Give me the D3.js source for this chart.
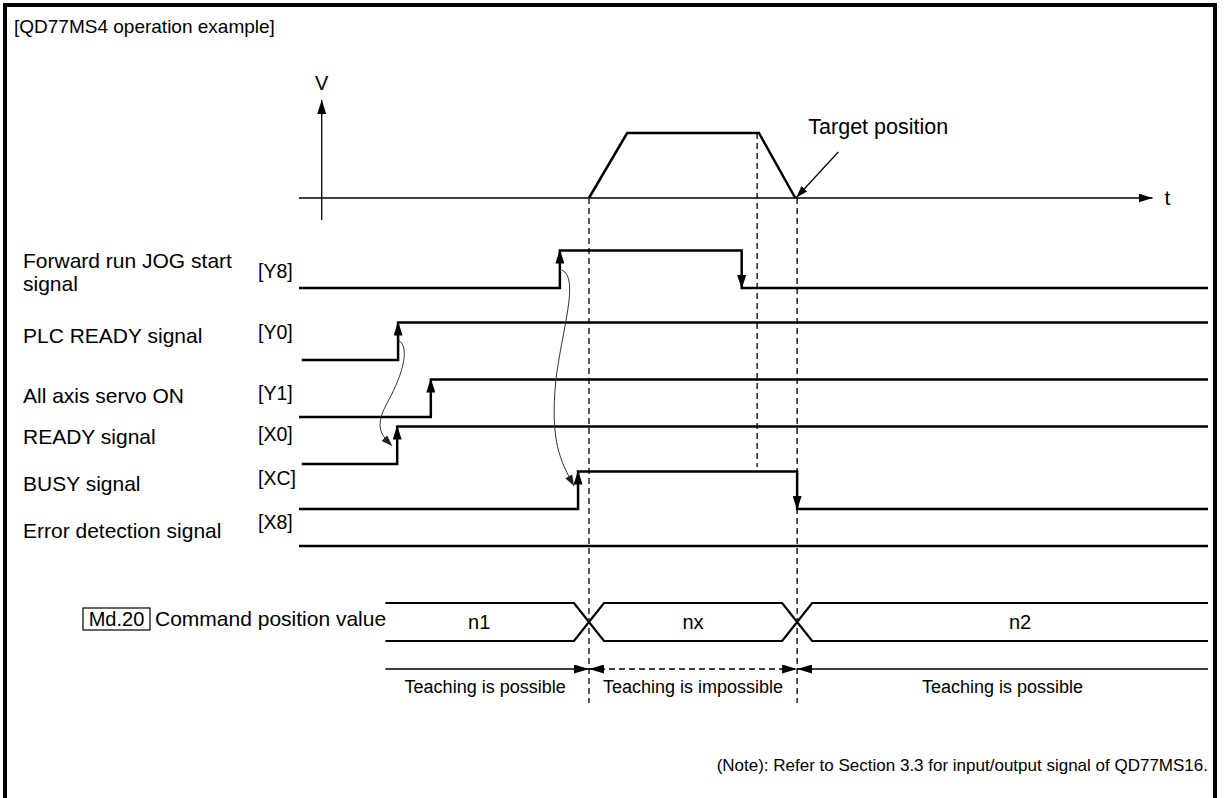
<!DOCTYPE html>
<html>
<head>
<meta charset="utf-8">
<script src="https://cdn.jsdelivr.net/npm/d3@7"></script>
<style>
  html, body { margin: 0; padding: 0; background: #fff; }
  svg { display: block; font-family: "Liberation Sans", Arial, sans-serif; }
</style>
</head>
<body>
<svg id="chart" width="1227" height="798"></svg>
<script>
// ---------------- DATA ----------------
const titleText = "[QD77MS4 operation example]";
const noteText = "(Note): Refer to Section 3.3 for input/output signal of QD77MS16.";

// velocity profile (time units, relative speed)
const velocityTimes = [31.9, 36.1, 50.6, 54.6];
const velocityValues = [0, 1, 1, 0];
const decelStartTime = 50.4;   // dashed marker at start of deceleration
const targetLabel = "Target position";

// signals
const signalLabels = [["Forward run JOG start", "signal"], ["PLC READY signal"], ["All axis servo ON"], ["READY signal"], ["BUSY signal"], ["Error detection signal"]];
const signalCodes = ["[Y8]", "[Y0]", "[Y1]", "[X0]", "[XC]", "[X8]"];
const signalStarts = [0, 0.3, 0, 0.3, 0, 0];
// edge times: [time, direction (1 = rise, 0 = fall)]
const signalEdges = [
  [[28.7, 1], [48.7, 0]],
  [[10.9, 1]],
  [[14.5, 1]],
  [[10.8, 1]],
  [[30.7, 1], [54.8, 0]],
  []
];

// command position value bus
const busLabelBox = "Md.20";
const busLabel = "Command position value";
const busStart = 9.5;
const busChanges = [31.9, 54.8];
const busValues = ["n1", "nx", "n2"];

// teaching availability
const teachTexts = ["Teaching is possible", "Teaching is impossible", "Teaching is possible"];
const teachPossible = [true, false, true];

// ---------------- LAYOUT ----------------
const W = 1227, H = 798;
const svg = d3.select("#chart");
const x = d3.scaleLinear().domain([0, 100]).range([299, 1208]);
const tEnd = 93.9;     // end of t axis
const vAxisT = 2.5;    // position of V axis
const yV = d3.scaleLinear().domain([0, 1]).range([198, 133]);

// signal row geometry (low level y, high level y)
const rowLow = [288, 360, 417, 464, 509, 546];
const amp = 37.5;
const labelBase = [268, 343, 403, 444, 491, 538];
const codeBase = [278, 339, 400, 441, 485, 529];

// markers
const defs = svg.append("defs");
function marker(id, w, h, color) {
  defs.append("marker").attr("id", id)
    .attr("viewBox", `0 0 ${w} ${h}`).attr("refX", w).attr("refY", h / 2)
    .attr("markerWidth", w).attr("markerHeight", h).attr("markerUnits", "userSpaceOnUse")
    .attr("orient", "auto")
    .append("path").attr("d", `M0,0L${w},${h / 2}L0,${h}Z`).attr("fill", color);
}
marker("axisArrow", 14, 9, "#000");
marker("edgeArrow", 14, 9, "#000");
marker("thinArrow", 12, 8, "#000");
marker("curveArrow", 11, 8, "#222");
marker("teachArrow", 15, 9, "#000");

// frame
svg.append("path").attr("d", `M5,${H}V5H1215V${H}`)
  .attr("fill", "none").attr("stroke", "#000").attr("stroke-width", 4);

// title
svg.append("text").attr("x", 14).attr("y", 33).attr("font-size", 19).text(titleText);

// ---- velocity axes ----
svg.append("line").attr("x1", x(vAxisT)).attr("x2", x(vAxisT)).attr("y1", 220).attr("y2", 100)
  .attr("stroke", "#000").attr("stroke-width", 1.3).attr("marker-end", "url(#axisArrow)");
svg.append("text").attr("x", x(vAxisT)).attr("y", 90).attr("text-anchor", "middle").attr("font-size", 20).text("V");
svg.append("line").attr("x1", x(0)).attr("x2", x(tEnd)).attr("y1", yV(0)).attr("y2", yV(0))
  .attr("stroke", "#000").attr("stroke-width", 1.3).attr("marker-end", "url(#axisArrow)");
svg.append("text").attr("x", x(tEnd) + 12).attr("y", yV(0) + 7).attr("font-size", 21).text("t");

// trapezoid
const velLine = d3.line().x((d, i) => x(velocityTimes[i])).y(d => yV(d));
svg.append("path").attr("d", velLine(velocityValues))
  .attr("fill", "none").attr("stroke", "#000").attr("stroke-width", 2.5).attr("stroke-linejoin", "miter");

// target position label + arrow
const tgtX = x(velocityTimes[3]);
svg.append("text").attr("x", tgtX + 13).attr("y", 134).attr("font-size", 21.5).text(targetLabel);
svg.append("line").attr("x1", tgtX + 43).attr("y1", 152).attr("x2", tgtX + 1).attr("y2", yV(0) - 0.5)
  .attr("stroke", "#000").attr("stroke-width", 1.2).attr("marker-end", "url(#thinArrow)");

// ---- dashed timing lines ----
const dash = "6,4";
[[busChanges[0], yV(0), 703], [decelStartTime, yV(1), 467], [busChanges[1], yV(0), 703]].forEach(d => {
  svg.append("line").attr("x1", x(d[0])).attr("x2", x(d[0])).attr("y1", d[1]).attr("y2", d[2])
    .attr("stroke", "#000").attr("stroke-width", 1.3).attr("stroke-dasharray", dash);
});

// ---- signals ----
signalLabels.forEach((lines, i) => {
  const t = svg.append("text").attr("x", 23).attr("y", labelBase[i]).attr("font-size", 21);
  lines.forEach((ln, j) => t.append("tspan").attr("x", 23).attr("dy", j === 0 ? 0 : 23).text(ln));
  svg.append("text").attr("x", 258).attr("y", codeBase[i]).attr("font-size", 19.5).text(signalCodes[i]);

  // waveform
  const low = rowLow[i], high = rowLow[i] - amp;
  let level = low;
  let d = `M${x(signalStarts[i])},${low}`;
  signalEdges[i].forEach(e => {
    const ex = x(e[0]);
    d += `H${ex}`;
    level = e[1] ? high : low;
    d += `V${level}`;
  });
  d += `H${x(100)}`;
  svg.append("path").attr("d", d).attr("fill", "none").attr("stroke", "#000")
    .attr("stroke-width", 2.5).attr("stroke-linejoin", "miter");
  // edge arrows
  signalEdges[i].forEach(e => {
    const ex = x(e[0]);
    const y1 = e[1] ? low : high, y2 = e[1] ? high : low;
    svg.append("line").attr("x1", ex).attr("x2", ex).attr("y1", (y1 + y2) / 2).attr("y2", y2 + (e[1] ? -1 : 1))
      .attr("stroke", "none").attr("marker-end", "url(#edgeArrow)");
  });
});

// causal curves
function edgeX(row, k) { return x(signalEdges[row][k][0]); }
const c1x = edgeX(1, 0), c1y = rowLow[1] - 20;
const c1ex = edgeX(3, 0) - 5, c1ey = rowLow[3] - 18;
svg.append("path")
  .attr("d", `M${c1x},${c1y}C${c1x + 14},${c1y + 8} ${c1x + 2},${c1y + 40} ${c1x - 12},${c1y + 65}C${c1x - 24},${c1y + 88} ${c1ex - 10},${c1ey - 10} ${c1ex},${c1ey}`)
  .attr("fill", "none").attr("stroke", "#333").attr("stroke-width", 1).attr("marker-end", "url(#curveArrow)");
const c2x = edgeX(0, 0) + 2, c2y = rowLow[0] - 18;
const c2ex = edgeX(4, 0) - 4, c2ey = rowLow[4] - 23;
svg.append("path")
  .attr("d", `M${c2x},${c2y}C${c2x + 18},${c2y + 8} ${c2x},${c2y + 60} ${c2x - 6},${c2y + 110}C${c2x - 12},${c2y + 170} ${c2ex - 14},${c2ey - 25} ${c2ex},${c2ey}`)
  .attr("fill", "none").attr("stroke", "#333").attr("stroke-width", 1).attr("marker-end", "url(#curveArrow)");

// ---- command position bus ----
const busTop = 603, busBot = 641, busMid = (busTop + busBot) / 2, hw = 15;
svg.append("rect").attr("x", 83).attr("y", 608).attr("width", 67).attr("height", 22)
  .attr("fill", "none").attr("stroke", "#000").attr("stroke-width", 1.2);
svg.append("text").attr("x", 116.5).attr("y", 626).attr("text-anchor", "middle").attr("font-size", 20).text(busLabelBox);
svg.append("text").attr("x", 155).attr("y", 626).attr("font-size", 21).text(busLabel);

const bounds = [busStart, ...busChanges, 100];
busValues.forEach((v, i) => {
  const xa = x(bounds[i]), xb = x(bounds[i + 1]);
  const openStart = i === 0, openEnd = i === busValues.length - 1;
  const sa = openStart ? xa : xa + hw, sb = openEnd ? xb : xb - hw;
  let top = `M${sa},${busTop}H${sb}`;
  let bot = `M${sa},${busBot}H${sb}`;
  if (!openStart) { top = `M${xa},${busMid}L${sa},${busTop}H${sb}`; bot = `M${xa},${busMid}L${sa},${busBot}H${sb}`; }
  if (!openEnd) { top += `L${xb},${busMid}`; bot += `L${xb},${busMid}`; }
  svg.append("path").attr("d", top + bot).attr("fill", "none").attr("stroke", "#000").attr("stroke-width", 2.2);
  const cx = i === busValues.length - 1 ? (sa + sb) / 2 + 10 : (xa + xb) / 2 + (i === 0 ? -8 : 0);
  svg.append("text").attr("x", cx).attr("y", busMid + 7).attr("text-anchor", "middle").attr("font-size", 20).text(v);
});

// ---- teaching ----
const teachY = 669;
teachPossible.forEach((ok, i) => {
  const xa = x(bounds[i]), xb = x(bounds[i + 1]);
  const ln = svg.append("line").attr("x1", xa).attr("x2", xb).attr("y1", teachY).attr("y2", teachY)
    .attr("stroke", "#000").attr("stroke-width", 1.3);
  if (!ok) ln.attr("stroke-dasharray", dash);
  // arrows pointing to the boundaries
  if (i > 0) svg.append("line").attr("x1", xa + 20).attr("x2", xa).attr("y1", teachY).attr("y2", teachY)
    .attr("stroke", "none").attr("marker-end", "url(#teachArrow)");
  if (i < teachPossible.length - 1) svg.append("line").attr("x1", xb - 20).attr("x2", xb).attr("y1", teachY).attr("y2", teachY)
    .attr("stroke", "none").attr("marker-end", "url(#teachArrow)");
  const cx = (xa + xb) / 2 + (i === 0 ? -2 : 0);
  svg.append("text").attr("x", cx).attr("y", teachY + 24)
    .attr("text-anchor", "middle").attr("font-size", 18).text(teachTexts[i]);
});

// note
svg.append("text").attr("x", 1208).attr("y", 771).attr("text-anchor", "end").attr("font-size", 17).text(noteText);
</script>
</body>
</html>
